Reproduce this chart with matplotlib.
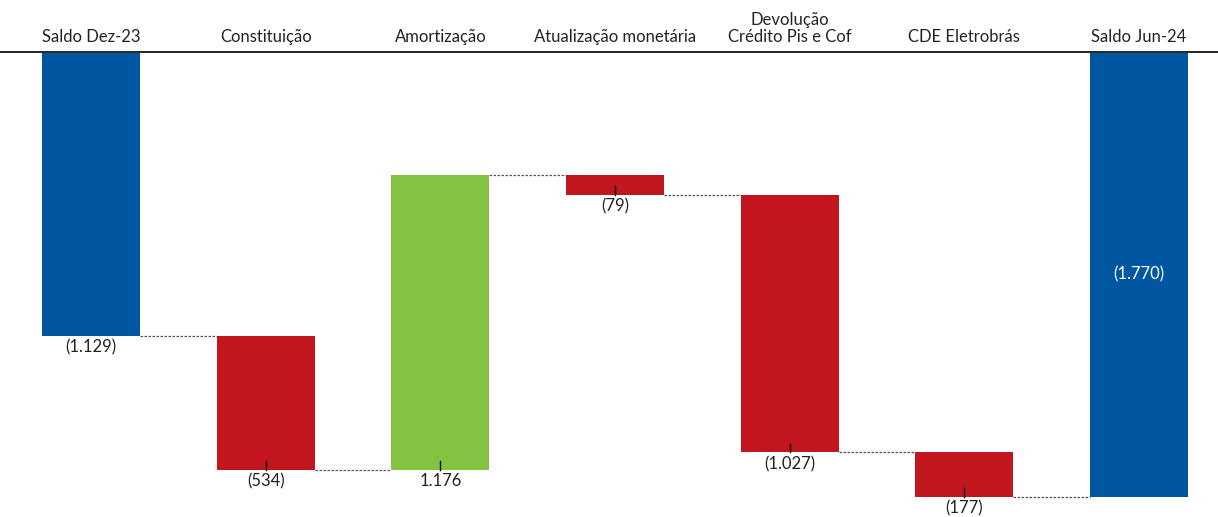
import matplotlib
matplotlib.use("Agg")
import matplotlib.pyplot as plt

categories = ["Saldo Dez-23", "Constituição", "Amortização", "Atualização monetária",
              "Devolução\nCrédito Pis e Cof", "CDE Eletrobrás", "Saldo Jun-24"]
values = [-1129, -534, 1176, -79, -1027, -177, -1770]
labels = ["(1.129)", "(534)", "1.176", "(79)", "(1.027)", "(177)", "(1.770)"]
kinds = ["total", "delta", "delta", "delta", "delta", "delta", "total"]

BLUE = "#0056A0"
RED = "#C1161D"
GREEN = "#82C341"

plt.rcParams["font.family"] = ["Lato", "DejaVu Sans"]

fig = plt.figure(figsize=(12.18, 5.17), dpi=100)
ax = fig.add_axes([0, 0, 1, 1])
ax.set_xlim(-0.521, 6.452)
ax.set_ylim(-1851, 211)
ax.axis("off")

width = 0.56
running = 0
ends = []
for i, (v, k) in enumerate(zip(values, kinds)):
    if k == "total":
        base, top = 0, v
        color = BLUE
        running = v
    else:
        base = running
        top = running + v
        running = top
        color = RED if v < 0 else GREEN
    ax.bar(i, top - base, bottom=base, width=width, color=color, zorder=2)
    ends.append((base, top))

# connectors between consecutive bars
level = None
for i in range(len(values) - 1):
    base, top = ends[i]
    lvl = top
    ax.plot([i + width / 2, i + 1 - width / 2], [lvl, lvl], color="#555555",
            lw=0.9, ls=(0, (2, 1.2)), zorder=1)

# value labels
for i, (k, lab) in enumerate(zip(kinds, labels)):
    base, top = ends[i]
    low = min(base, top)
    if i == len(values) - 1:
        ax.text(i, (base + top) / 2, lab, ha="center", va="center",
                color="white", fontsize=12)
    else:
        if k == "delta":
            ax.plot([i, i], [low, low + 34], color="black", lw=1, zorder=3)
        ax.text(i, low - 14, lab, ha="center", va="top", color="#222222", fontsize=12)

# top axis line and category headers
ax.axhline(5, color="black", lw=1.2, zorder=3)
for i, c in enumerate(categories):
    ax.text(i, 32, c, ha="center", va="bottom", fontsize=12, color="#222222",
            linespacing=1.05)

fig.savefig("out.png", dpi=100)
